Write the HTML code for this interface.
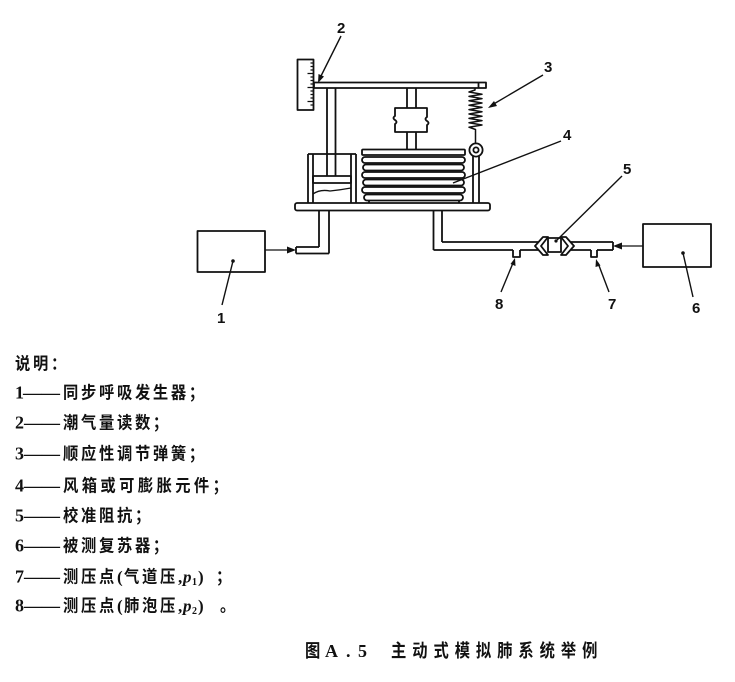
<!DOCTYPE html>
<html>
<head>
<meta charset="utf-8">
<style>
html,body{margin:0;padding:0;background:#fff;}
body{width:735px;height:682px;overflow:hidden;position:relative;}
svg{position:absolute;left:0;top:0;}
.cjk{font-family:"Liberation Sans","Noto Sans CJK SC",sans-serif;font-weight:bold;}
.num{font-family:"Liberation Serif",serif;font-weight:bold;}
.lab{font-family:"Liberation Sans",sans-serif;font-weight:bold;font-size:15px;}
</style>
</head>
<body>
<svg width="735" height="682" viewBox="0 0 735 682" xmlns="http://www.w3.org/2000/svg">
<g fill="none" stroke="#111" stroke-width="1.8" stroke-linejoin="round">
  <rect x="297.5" y="59.5" width="16" height="50.5"/>
  <path d="M313.5,63 h-3 M313.5,66.5 h-3 M313.5,70 h-3 M313.5,73.5 h-6 M313.5,77 h-3 M313.5,80.5 h-3 M313.5,84 h-3 M313.5,87.5 h-6 M313.5,91 h-3 M313.5,94.5 h-3 M313.5,98 h-3 M313.5,101.5 h-6 M313.5,105 h-3" stroke-width="1.2"/>
  <rect x="314" y="82.5" width="172" height="5.5"/>
  <line x1="478.5" y1="82.5" x2="478.5" y2="88"/>
  <line x1="327" y1="88" x2="327" y2="176"/>
  <line x1="335.5" y1="88" x2="335.5" y2="176"/>
  <line x1="407" y1="88" x2="407" y2="108"/>
  <line x1="416" y1="88" x2="416" y2="108"/>
  <line x1="407" y1="132" x2="407" y2="149"/>
  <line x1="416" y1="132" x2="416" y2="149"/>
  <path d="M395,108 L427,108 L427,117 Q424,119 427,121 Q430,123 427,125 L427,132 L395,132 L395,124 Q398,122 395,120 Q392,118 395,116 Z"/>
  <polyline points="475,88 475,90 469,92 482,94.2 469,96.4 482,98.6 469,100.8 482,103 469,105.2 482,107.4 469,109.6 482,111.8 469,114 482,116.2 469,118.4 482,120.6 469,122.8 482,125 469,127.2 475.5,129.5 475.5,143.5" stroke-width="1.5"/>
  <circle cx="476" cy="150" r="6.6"/>
  <circle cx="476" cy="150" r="2.6"/>
  <line x1="473" y1="156.5" x2="473" y2="203"/>
  <line x1="479" y1="156.5" x2="479" y2="203"/>
  <line x1="308" y1="154" x2="308" y2="203"/>
  <line x1="313" y1="154" x2="313" y2="203"/>
  <line x1="351" y1="154" x2="351" y2="203"/>
  <line x1="356" y1="154" x2="356" y2="203"/>
  <line x1="308" y1="154" x2="356" y2="154"/>
  <rect x="313" y="176" width="38" height="7"/>
  <path d="M313,194 Q320,189 330,191 Q340,190 351,188" stroke-width="1.3"/>
  <rect x="362" y="149.5" width="103" height="5.5" rx="1"/>
  <rect x="362" y="157" width="103" height="6" rx="3"/>
  <rect x="363" y="164.5" width="101" height="6" rx="3"/>
  <rect x="362" y="172" width="103" height="6" rx="3"/>
  <rect x="363" y="179.5" width="101" height="6" rx="3"/>
  <rect x="362" y="187" width="103" height="6" rx="3"/>
  <rect x="364" y="194.5" width="99" height="6" rx="3"/>
  <line x1="369" y1="201" x2="369" y2="203"/>
  <line x1="459" y1="201" x2="459" y2="203"/>
  <rect x="295" y="203" width="195" height="7.5" rx="2"/>
  <line x1="319" y1="210.5" x2="319" y2="247"/>
  <line x1="329" y1="210.5" x2="329" y2="253.5"/>
  <line x1="319" y1="247" x2="296" y2="247"/>
  <line x1="329" y1="253.5" x2="296" y2="253.5"/>
  <line x1="296" y1="247" x2="296" y2="253.5"/>
  <rect x="197.5" y="231" width="67.5" height="41"/>
  <line x1="265" y1="250" x2="289" y2="250" stroke-width="1.3"/>
  <line x1="433.5" y1="210.5" x2="433.5" y2="250"/>
  <line x1="442" y1="210.5" x2="442" y2="242"/>
  <line x1="442" y1="242" x2="538" y2="242"/>
  <line x1="433.5" y1="250" x2="513" y2="250"/>
  <line x1="520" y1="250" x2="538" y2="250"/>
  <path d="M513,250 V257 H520 V250"/>
  <path d="M548,237 L543,237 L535,246 L543,255 L548,255 L541,246 Z"/>
  <rect x="548" y="238" width="13" height="14"/>
  <path d="M561,237 L566,237 L574,246 L566,255 L561,255 L568,246 Z"/>
  <line x1="571" y1="242" x2="613" y2="242"/>
  <line x1="571" y1="250" x2="591" y2="250"/>
  <line x1="597" y1="250" x2="613" y2="250"/>
  <line x1="613" y1="242" x2="613" y2="250"/>
  <path d="M591,250 V257 H597 V250"/>
  <rect x="643" y="224" width="68" height="43"/>
  <line x1="643" y1="246" x2="621" y2="246" stroke-width="1.3"/>
  <line x1="341" y1="36" x2="320" y2="78" stroke-width="1.4"/>
  <line x1="543" y1="75" x2="492" y2="105" stroke-width="1.4"/>
  <line x1="561" y1="141" x2="453" y2="183" stroke-width="1.4"/>
  <line x1="622" y1="176" x2="556" y2="241" stroke-width="1.4"/>
  <line x1="233" y1="261" x2="222" y2="305" stroke-width="1.4"/>
  <line x1="683" y1="253" x2="693" y2="297" stroke-width="1.4"/>
  <line x1="501" y1="292" x2="513" y2="263" stroke-width="1.4"/>
  <line x1="609" y1="292" x2="598" y2="263" stroke-width="1.4"/>
</g>
<g fill="#111" stroke="none">
  <polygon points="296,250 287,246.5 287,253.5"/>
  <polygon points="613,246 622,242.5 622,249.5"/>
  <polygon points="318,83 318.5,74 324,76.5"/>
  <polygon points="488,108 494,101 497,106"/>
  <polygon points="515,258 515.5,266 510.5,264"/>
  <polygon points="596,259 600.5,265.5 595.5,267"/>
  <circle cx="233" cy="261" r="1.8"/>
  <circle cx="683" cy="253" r="1.8"/>
  <circle cx="556" cy="241" r="1.6"/>
</g>
<g class="lab" fill="#111">
  <text x="337" y="33">2</text>
  <text x="544" y="72">3</text>
  <text x="563" y="140">4</text>
  <text x="623" y="174">5</text>
  <text x="692" y="313">6</text>
  <text x="608" y="309">7</text>
  <text x="495" y="309">8</text>
  <text x="217" y="323">1</text>
</g>
<g fill="#111" font-size="17">
  <text class="cjk" transform="translate(15,369.5) scale(0.9,1)" letter-spacing="3">说明：</text>

  <text class="num" font-size="18" x="15" y="398.5">1</text>
  <text class="num" font-size="18" x="23" y="398.5" textLength="37" lengthAdjust="spacingAndGlyphs">——</text>
  <text class="cjk" transform="translate(63,398.5) scale(0.9,1)" letter-spacing="3">同步呼吸发生器；</text>

  <text class="num" font-size="18" x="15" y="428.5">2</text>
  <text class="num" font-size="18" x="24" y="428.5" textLength="36" lengthAdjust="spacingAndGlyphs">——</text>
  <text class="cjk" transform="translate(63,428.5) scale(0.9,1)" letter-spacing="3">潮气量读数；</text>

  <text class="num" font-size="18" x="15" y="459.5">3</text>
  <text class="num" font-size="18" x="24" y="459.5" textLength="36" lengthAdjust="spacingAndGlyphs">——</text>
  <text class="cjk" transform="translate(63,459.5) scale(0.9,1)" letter-spacing="3">顺应性调节弹簧；</text>

  <text class="num" font-size="18" x="15" y="491.5">4</text>
  <text class="num" font-size="18" x="24" y="491.5" textLength="36" lengthAdjust="spacingAndGlyphs">——</text>
  <text class="cjk" transform="translate(63,491.5) scale(0.9,1)" letter-spacing="3.8">风箱或可膨胀元件；</text>

  <text class="num" font-size="18" x="15" y="521.5">5</text>
  <text class="num" font-size="18" x="24" y="521.5" textLength="36" lengthAdjust="spacingAndGlyphs">——</text>
  <text class="cjk" transform="translate(63,521.5) scale(0.9,1)" letter-spacing="3">校准阻抗；</text>

  <text class="num" font-size="18" x="15" y="551.5">6</text>
  <text class="num" font-size="18" x="24" y="551.5" textLength="36" lengthAdjust="spacingAndGlyphs">——</text>
  <text class="cjk" transform="translate(63,551.5) scale(0.9,1)" letter-spacing="3">被测复苏器；</text>

  <text class="num" font-size="18" x="15" y="582.5">7</text>
  <text class="num" font-size="18" x="24" y="582.5" textLength="36" lengthAdjust="spacingAndGlyphs">——</text>
  <text class="cjk" transform="translate(63,582.5) scale(0.9,1)" letter-spacing="3">测压点</text>
  <text class="num" font-size="17" x="117" y="582.5">(</text>
  <text class="cjk" transform="translate(124,582.5) scale(0.9,1)" letter-spacing="3">气道压</text>
  <text class="num" font-size="17" x="178" y="582.5">,</text>
  <text class="num" font-size="17" font-style="italic" x="183" y="582.5">p</text>
  <text class="num" font-size="10" x="192" y="585">1</text>
  <text class="num" font-size="17" x="198" y="582.5">)</text>
  <text class="cjk" transform="translate(216,582.5) scale(0.9,1)">；</text>

  <text class="num" font-size="18" x="15" y="611.5">8</text>
  <text class="num" font-size="18" x="24" y="611.5" textLength="36" lengthAdjust="spacingAndGlyphs">——</text>
  <text class="cjk" transform="translate(63,611.5) scale(0.9,1)" letter-spacing="3">测压点</text>
  <text class="num" font-size="17" x="117" y="611.5">(</text>
  <text class="cjk" transform="translate(124,611.5) scale(0.9,1)" letter-spacing="3">肺泡压</text>
  <text class="num" font-size="17" x="178" y="611.5">,</text>
  <text class="num" font-size="17" font-style="italic" x="183" y="611.5">p</text>
  <text class="num" font-size="10" x="192" y="614">2</text>
  <text class="num" font-size="17" x="198" y="611.5">)</text>
  <text class="cjk" transform="translate(220,611.5) scale(0.9,1)">。</text>
</g>
<g fill="#111">
  <text class="cjk" transform="translate(305,657) scale(0.85,1)" font-size="18">图</text>
  <text class="num" font-size="18" x="325" y="657">A</text>
  <text class="num" font-size="18" x="346" y="657">.</text>
  <text class="num" font-size="18" x="358" y="657">5</text>
  <text class="cjk" transform="translate(391,657) scale(0.85,1)" font-size="18" letter-spacing="7">主动式模拟肺系统举例</text>
</g>
</svg>
</body>
</html>
